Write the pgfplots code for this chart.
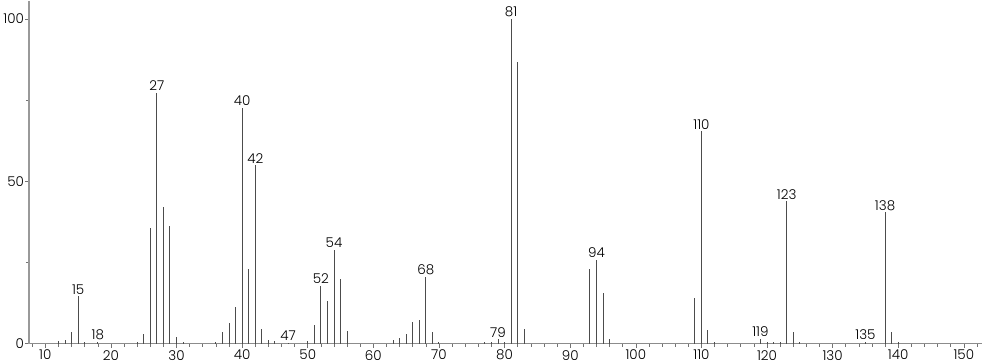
\documentclass[border=0pt]{standalone}
\usepackage{fontspec}
\setmainfont{Poppins}[UprightFont=* Light]
\usepackage{pgfplots}
\pgfplotsset{compat=1.18}
\begin{document}
\begin{tikzpicture}
\begin{axis}[
  scale only axis, width=953pt, height=343pt,
  xmin=7.5, xmax=152.7, ymin=0, ymax=105.6,
  axis x line=bottom, axis y line=left,
  axis line style={-, draw=black!45, line width=0.9pt},
  y axis line style={line width=1.6pt, draw=black!40},
  xtick={10,20,...,150}, minor xtick={8,10,...,152},
  ytick={0,50,100}, minor ytick={25,75},
  tick align=outside, major tick length=4pt, minor tick length=3pt,
  tick style={black!55, line width=0.6pt},
  ticklabel style={font=\fontsize{13.5}{15}\selectfont, text=black},
  /pgf/number format/assume math mode=true,
  xticklabel style={yshift=1pt},
  yticklabel style={xshift=2.5pt},
  clip=false,
]
\addplot[ycomb, draw=black!70, line width=1pt, mark=none] coordinates {
(12,0.8) (13,1.0) (14,3.7) (15,14.6) (16,0.5) (18,0.5)
(24,0.6) (25,3.0) (26,35.5) (27,77.2) (28,42.0) (29,36.2) (30,1.9) (31,0.4)
(36,0.6) (37,3.5) (38,6.5) (39,11.3) (40,72.6) (41,23.1) (42,54.9) (43,4.6) (44,1.0) (45,0.7) (47,0.3)
(50,0.7) (51,5.6) (52,17.9) (53,13.1) (54,29.0) (55,19.8) (56,3.8)
(63,1.0) (64,1.7) (65,2.9) (66,6.6) (67,7.2) (68,20.5) (69,3.5) (70,0.6)
(77,0.5) (78,0.4) (79,1.3) (80,0.6) (81,100) (82,86.6) (83,4.6)
(93,23.0) (94,25.7) (95,15.7) (96,1.3)
(109,14.2) (110,65.4) (111,4.1) (112,0.5)
(119,1.5) (120,0.6) (121,0.4) (122,0.4) (123,43.8) (124,3.5) (125,0.5)
(135,0.5) (138,40.4) (139,3.7) (140,0.6)
};
\addplot[draw=none, mark=none, nodes near coords, point meta=explicit symbolic,
  nodes near coords style={anchor=south, inner sep=2pt, text=black, font=\fontsize{13.5}{15}\selectfont}]
coordinates {
(15,14.6)[15] (18,0.5)[18] (27,77.2)[27] (40,72.6)[40] (42,54.9)[42] (47,0.3)[47]
(52,17.9)[52] (54,29.0)[54] (68,20.5)[68] (79,1.3)[79] (81,100)[81] (94,25.7)[94]
(110,65.4)[110] (119,1.5)[119] (123,43.8)[123] (135,0.5)[135] (138,40.4)[138]
};
\end{axis}
\end{tikzpicture}
\end{document}
